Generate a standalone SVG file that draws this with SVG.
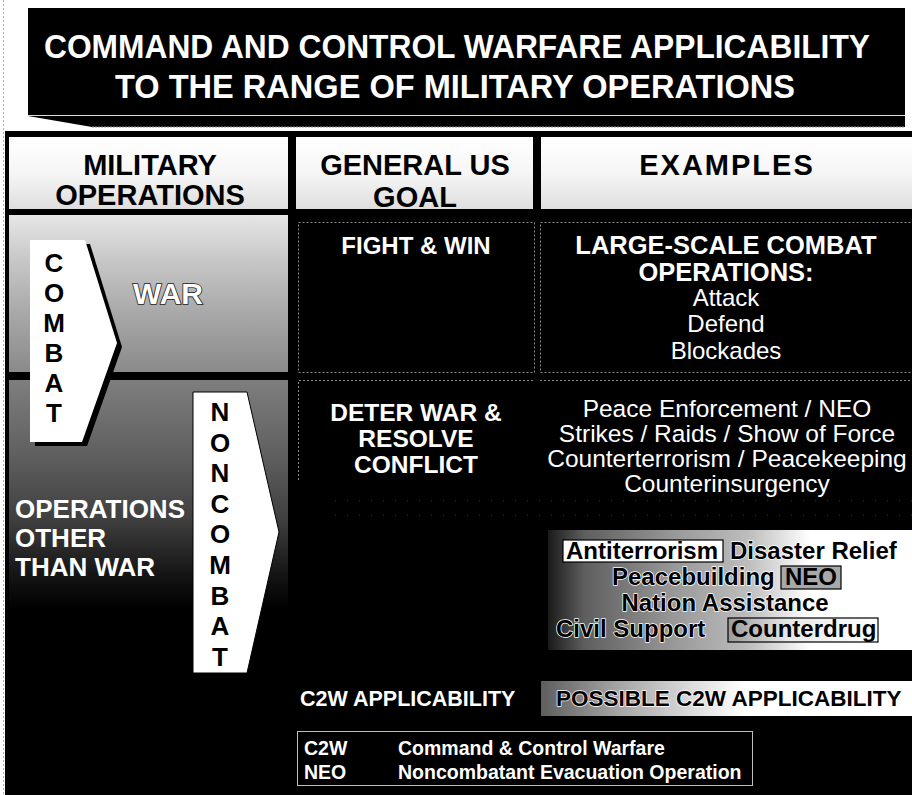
<svg xmlns="http://www.w3.org/2000/svg" width="912" height="795" viewBox="0 0 912 795">
  <defs>
    <style>
      .sans { font-family: "Liberation Sans", Arial, sans-serif; }
      .b { font-weight: bold; }
      .w { fill: #ffffff; }
      .k { fill: #000000; }
      .mid { text-anchor: middle; }
      .hdr { font-size: 29px; font-weight: bold; fill: #000; text-anchor: middle; }
      .title { font-size: 33px; font-weight: bold; fill: #fff; }
      .letter { font-size: 26px; font-weight: bold; fill: #000; text-anchor: middle; }
      .cell { fill: #000; stroke: #8a8a8a; stroke-width: 1; stroke-dasharray: 2 2; }
      .halo { stroke: #ffffff; stroke-width: 1.5; paint-order: stroke; stroke-linejoin: round; }
      .ex { font-size: 24px; font-weight: bold; fill: #000; }
    </style>
    <linearGradient id="warFill" x1="0" y1="0" x2="0" y2="1">
      <stop offset="0" stop-color="#e6e6e6"/>
      <stop offset="0.3" stop-color="#c6c6c6"/>
      <stop offset="0.65" stop-color="#a6a6a6"/>
      <stop offset="1" stop-color="#8a8a8a"/>
    </linearGradient>
    <linearGradient id="ootwFill" x1="0" y1="0" x2="0" y2="1">
      <stop offset="0" stop-color="#7e7e7e"/>
      <stop offset="0.3" stop-color="#626262"/>
      <stop offset="0.6" stop-color="#404040"/>
      <stop offset="0.85" stop-color="#141414"/>
      <stop offset="1" stop-color="#000000"/>
    </linearGradient>
    <linearGradient id="headFill" x1="0" y1="0" x2="0" y2="1">
      <stop offset="0" stop-color="#ffffff"/>
      <stop offset="0.5" stop-color="#f6f6f6"/>
      <stop offset="1" stop-color="#dedede"/>
    </linearGradient>
    <linearGradient id="bandFill" x1="548" y1="0" x2="912" y2="0" gradientUnits="userSpaceOnUse">
      <stop offset="0" stop-color="#1a1a1a"/>
      <stop offset="0.1" stop-color="#5e5e5e"/>
      <stop offset="0.35" stop-color="#999999"/>
      <stop offset="0.55" stop-color="#bdbdbd"/>
      <stop offset="0.72" stop-color="#ffffff"/>
      <stop offset="1" stop-color="#ffffff"/>
    </linearGradient>
    <linearGradient id="possFill" x1="541" y1="0" x2="912" y2="0" gradientUnits="userSpaceOnUse">
      <stop offset="0" stop-color="#5e5e5e"/>
      <stop offset="0.2" stop-color="#a2a2a2"/>
      <stop offset="0.4" stop-color="#dadada"/>
      <stop offset="0.55" stop-color="#ffffff"/>
      <stop offset="1" stop-color="#ffffff"/>
    </linearGradient>
    <linearGradient id="drugFill" x1="0" y1="0" x2="1" y2="0">
      <stop offset="0" stop-color="#9a9a9a"/>
      <stop offset="0.4" stop-color="#e8e8e8"/>
      <stop offset="1" stop-color="#ffffff"/>
    </linearGradient>
  </defs>

  <!-- page -->
  <rect x="0" y="0" width="912" height="795" fill="#ffffff"/>
  <line x1="3.5" y1="0" x2="3.5" y2="795" stroke="#b0b0b0" stroke-width="1" stroke-dasharray="2 2"/>

  <!-- title plaque -->
  <g id="title">
    <polygon points="28,116 905,116 905,127 92,127" fill="#000"/>
    <line x1="92" y1="127" x2="905" y2="127" stroke="#9a9a9a" stroke-width="1.2" stroke-dasharray="2 1"/>
    <rect x="28" y="8" width="877" height="107" fill="#000"/>
    <line x1="28" y1="115.5" x2="905" y2="115.5" stroke="#d0d0d0" stroke-width="0.8"/>
    <text class="sans title" x="44" y="58" textLength="826" lengthAdjust="spacingAndGlyphs">COMMAND AND CONTROL WARFARE APPLICABILITY</text>
    <text class="sans title" x="115" y="98" textLength="680" lengthAdjust="spacingAndGlyphs">TO THE RANGE OF MILITARY OPERATIONS</text>
  </g>

  <!-- table body -->
  <rect x="5" y="131" width="907" height="664" fill="#000"/>

  <g id="head-ops">
    <rect x="9" y="137" width="279" height="72" fill="url(#headFill)"/>
    <text class="sans hdr" x="150" y="175">MILITARY</text>
    <text class="sans hdr" x="150" y="205">OPERATIONS</text>
  </g>
  <g id="head-goal">
    <rect x="296" y="137" width="237" height="72" fill="url(#headFill)"/>
    <text class="sans hdr" x="415" y="175">GENERAL US</text>
    <text class="sans hdr" x="415" y="207">GOAL</text>
  </g>
  <g id="head-examples">
    <rect x="541" y="137" width="371" height="72" fill="url(#headFill)"/>
    <text class="sans hdr" x="727" y="175" style="letter-spacing:2px">EXAMPLES</text>
  </g>

  <!-- military operations column -->
  <g id="war">
    <rect x="9" y="215" width="279" height="157" fill="url(#warFill)"/>
    <text class="sans b" x="168" y="304" font-size="30" text-anchor="middle" fill="#ffffff" stroke="#1a1a1a" stroke-width="1.6" paint-order="stroke">WAR</text>
  </g>
  <g id="ootw">
    <rect x="9" y="380" width="279" height="230" fill="url(#ootwFill)"/>
    <text class="sans b w" x="15" y="518" font-size="26">OPERATIONS</text>
    <text class="sans b w" x="15" y="547" font-size="26">OTHER</text>
    <text class="sans b w" x="15" y="576" font-size="26">THAN WAR</text>
  </g>

  <g id="combat">
    <polygon points="35,244 90,244 122,347 87,446 35,446" fill="#000"/>
    <polygon points="30,240 85,240 117,343 82,442 30,442" fill="#fff"/>
    <text class="sans letter" x="54" y="272">C</text>
    <text class="sans letter" x="54" y="302">O</text>
    <text class="sans letter" x="54" y="332">M</text>
    <text class="sans letter" x="54" y="362">B</text>
    <text class="sans letter" x="54" y="392">A</text>
    <text class="sans letter" x="54" y="422">T</text>
  </g>

  <g id="noncombat">
    <polygon points="193,392 247,392 279,532 247,673 193,673" fill="#fff" stroke="#000" stroke-width="1"/>
    <text class="sans letter" x="220" y="421">N</text>
    <text class="sans letter" x="220" y="452">O</text>
    <text class="sans letter" x="220" y="482">N</text>
    <text class="sans letter" x="220" y="513">C</text>
    <text class="sans letter" x="220" y="543">O</text>
    <text class="sans letter" x="220" y="574">M</text>
    <text class="sans letter" x="220" y="605">B</text>
    <text class="sans letter" x="220" y="635">A</text>
    <text class="sans letter" x="220" y="666">T</text>
  </g>

  <!-- goal / examples rows -->
  <g id="fight-win">
    <rect class="cell" x="298.5" y="222.5" width="236" height="150"/>
    <text class="sans b w mid" x="416" y="254" font-size="24">FIGHT &amp; WIN</text>
  </g>
  <g id="combat-examples">
    <rect class="cell" x="540.5" y="222.5" width="372" height="150"/>
    <text class="sans b w mid" x="726" y="254" font-size="25.5">LARGE-SCALE COMBAT</text>
    <text class="sans b w mid" x="726" y="281" font-size="25.5">OPERATIONS:</text>
    <text class="sans w mid" x="726" y="306" font-size="24">Attack</text>
    <text class="sans w mid" x="726" y="332" font-size="24">Defend</text>
    <text class="sans w mid" x="726" y="359" font-size="24">Blockades</text>
  </g>

  <g id="deter">
    <path d="M298.5,480 V380.5 H534.5" fill="none" stroke="#8a8a8a" stroke-dasharray="2 2"/>
    <text class="sans b w mid" x="416" y="421" font-size="24.5">DETER WAR &amp;</text>
    <text class="sans b w mid" x="416" y="447" font-size="24.5">RESOLVE</text>
    <text class="sans b w mid" x="416" y="473" font-size="24.5">CONFLICT</text>
  </g>
  <g id="deter-examples">
    <line x1="540" y1="380.5" x2="912" y2="380.5" stroke="#8a8a8a" stroke-dasharray="2 2"/>
    <text class="sans w mid" x="727" y="417" font-size="24.5">Peace Enforcement / NEO</text>
    <text class="sans w mid" x="727" y="442" font-size="24.5">Strikes / Raids / Show of Force</text>
    <text class="sans w mid" x="727" y="467" font-size="24.5">Counterterrorism / Peacekeeping</text>
    <text class="sans w mid" x="727" y="492" font-size="24.5">Counterinsurgency</text>
  </g>
  <g id="speckle-rows" stroke="#5a5a5a" stroke-width="1" stroke-dasharray="1 11" opacity="0.6">
    <line x1="335" y1="500.5" x2="912" y2="500.5"/>
    <line x1="335" y1="515.5" x2="912" y2="515.5"/>
  </g>

  <g id="ootw-examples">
    <rect x="548" y="530" width="364" height="120" fill="url(#bandFill)"/>
    <rect x="563" y="540" width="160" height="22" fill="#fff" stroke="#000" stroke-width="1.2"/>
    <text class="sans ex" x="566" y="559">Antiterrorism</text>
    <text class="sans ex halo" x="730" y="559">Disaster Relief</text>
    <text class="sans ex halo" x="612" y="585">Peacebuilding</text>
    <rect x="781" y="566" width="60" height="23" fill="#a8a8a8" stroke="#000" stroke-width="1.2"/>
    <text class="sans ex" x="785" y="585">NEO</text>
    <text class="sans ex halo" x="725" y="611" text-anchor="middle">Nation Assistance</text>
    <text class="sans ex halo" x="556" y="637">Civil Support</text>
    <rect x="728" y="618" width="150" height="24" fill="url(#drugFill)" stroke="#000" stroke-width="1.2"/>
    <text class="sans ex" x="731" y="637">Counterdrug</text>
  </g>

  <g id="c2w-applicability">
    <text class="sans b w" x="300" y="706" font-size="21.5">C2W APPLICABILITY</text>
  </g>
  <g id="possible-applicability">
    <rect x="541" y="681" width="371" height="35" fill="url(#possFill)"/>
    <text class="sans b k halo" x="556" y="706" font-size="22.5">POSSIBLE C2W APPLICABILITY</text>
  </g>

  <g id="legend">
    <rect x="297.5" y="731.5" width="455" height="54" fill="#000" stroke="#bdbdbd" stroke-width="1"/>
    <text class="sans b w" x="304" y="755" font-size="19.5">C2W</text>
    <text class="sans b w" x="398" y="755" font-size="19.5">Command &amp; Control Warfare</text>
    <text class="sans b w" x="304" y="779" font-size="19.5">NEO</text>
    <text class="sans b w" x="398" y="779" font-size="19.5">Noncombatant Evacuation Operation</text>
  </g>
</svg>
